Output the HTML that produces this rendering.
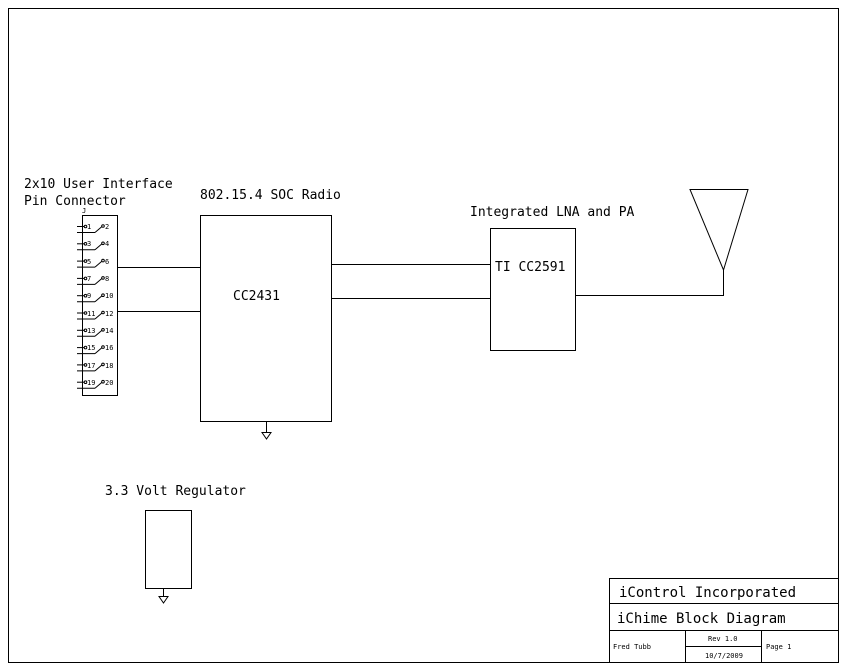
<!DOCTYPE html>
<html><head><style>
html,body{margin:0;padding:0;background:#fff;}
svg{display:block;}
text{font-family:"DejaVu Sans Mono","Liberation Mono",monospace;fill:#000;}
</style></head><body>
<svg width="846" height="670" viewBox="0 0 846 670" xmlns="http://www.w3.org/2000/svg">
<g fill="none" stroke="#000" stroke-width="1">
<rect x="8.5" y="8.5" width="830" height="654"/>
<rect x="82.5" y="215.5" width="35" height="180"/>
<rect x="200.5" y="215.5" width="131" height="206"/>
<rect x="490.5" y="228.5" width="85" height="122"/>
<rect x="145.5" y="510.5" width="46" height="78"/>
<line x1="117" y1="267.5" x2="200" y2="267.5"/>
<line x1="117" y1="311.5" x2="200" y2="311.5"/>
<line x1="331" y1="264.5" x2="490" y2="264.5"/>
<line x1="331" y1="298.5" x2="490" y2="298.5"/>
<polyline points="575,295.5 723.5,295.5 723.5,270"/>
<polygon points="690,189.5 748,189.5 723.5,270"/>
<line x1="266.5" y1="422" x2="266.5" y2="432"/>
<polygon points="262,432.5 271,432.5 266.5,439"/>
<line x1="163.5" y1="589" x2="163.5" y2="596"/>
<polygon points="159,596.5 168,596.5 163.5,603"/>
<rect x="609.5" y="578.5" width="229" height="84"/>
<line x1="609" y1="603.5" x2="838" y2="603.5"/>
<line x1="609" y1="630.5" x2="838" y2="630.5"/>
<line x1="685.5" y1="630" x2="685.5" y2="662"/>
<line x1="761.5" y1="630" x2="761.5" y2="662"/>
<line x1="685" y1="646.5" x2="761" y2="646.5"/>
</g>
<g stroke="#000" stroke-width="1" fill="none">
<!-- pins -->
<g id="p">
<line x1="77" y1="226.5" x2="84" y2="226.5"/><circle cx="85.5" cy="226.5" r="1.3"/>
<line x1="77" y1="232.5" x2="95" y2="232.5"/>
<line x1="95" y1="232.5" x2="102" y2="226.5"/><circle cx="103" cy="226" r="1.3"/>
</g>
<use href="#p" y="17.3"/><use href="#p" y="34.6"/><use href="#p" y="51.9"/><use href="#p" y="69.2"/>
<use href="#p" y="86.5"/><use href="#p" y="103.8"/><use href="#p" y="121.1"/><use href="#p" y="138.4"/><use href="#p" y="155.7"/>
</g>
<g font-size="7">
<text x="87" y="229">1</text><text x="105" y="229">2</text>
<text x="87" y="246">3</text><text x="105" y="246">4</text>
<text x="87" y="264">5</text><text x="105" y="264">6</text>
<text x="87" y="281">7</text><text x="105" y="281">8</text>
<text x="87" y="298">9</text><text x="105" y="298">10</text>
<text x="87" y="316">11</text><text x="105" y="316">12</text>
<text x="87" y="333">13</text><text x="105" y="333">14</text>
<text x="87" y="350">15</text><text x="105" y="350">16</text>
<text x="87" y="368">17</text><text x="105" y="368">18</text>
<text x="87" y="385">19</text><text x="105" y="385">20</text>
<text x="82" y="213">J</text>
</g>
<g font-size="13">
<text x="24" y="188">2x10 User Interface</text>
<text x="24" y="205">Pin Connector</text>
<text x="200" y="199">802.15.4 SOC Radio</text>
<text x="470" y="216">Integrated LNA and PA</text>
<text x="233" y="300">CC2431</text>
<text x="495" y="271">TI CC2591</text>
<text x="105" y="495">3.3 Volt Regulator</text>
</g>
<g font-size="14">
<text x="619" y="597">iControl Incorporated</text>
<text x="617" y="623">iChime Block Diagram</text>
</g>
<g font-size="7">
<text x="613" y="649">Fred Tubb</text>
<text x="708" y="641">Rev 1.0</text>
<text x="705" y="658">10/7/2009</text>
<text x="766" y="649">Page 1</text>
</g>
</svg>
</body></html>
